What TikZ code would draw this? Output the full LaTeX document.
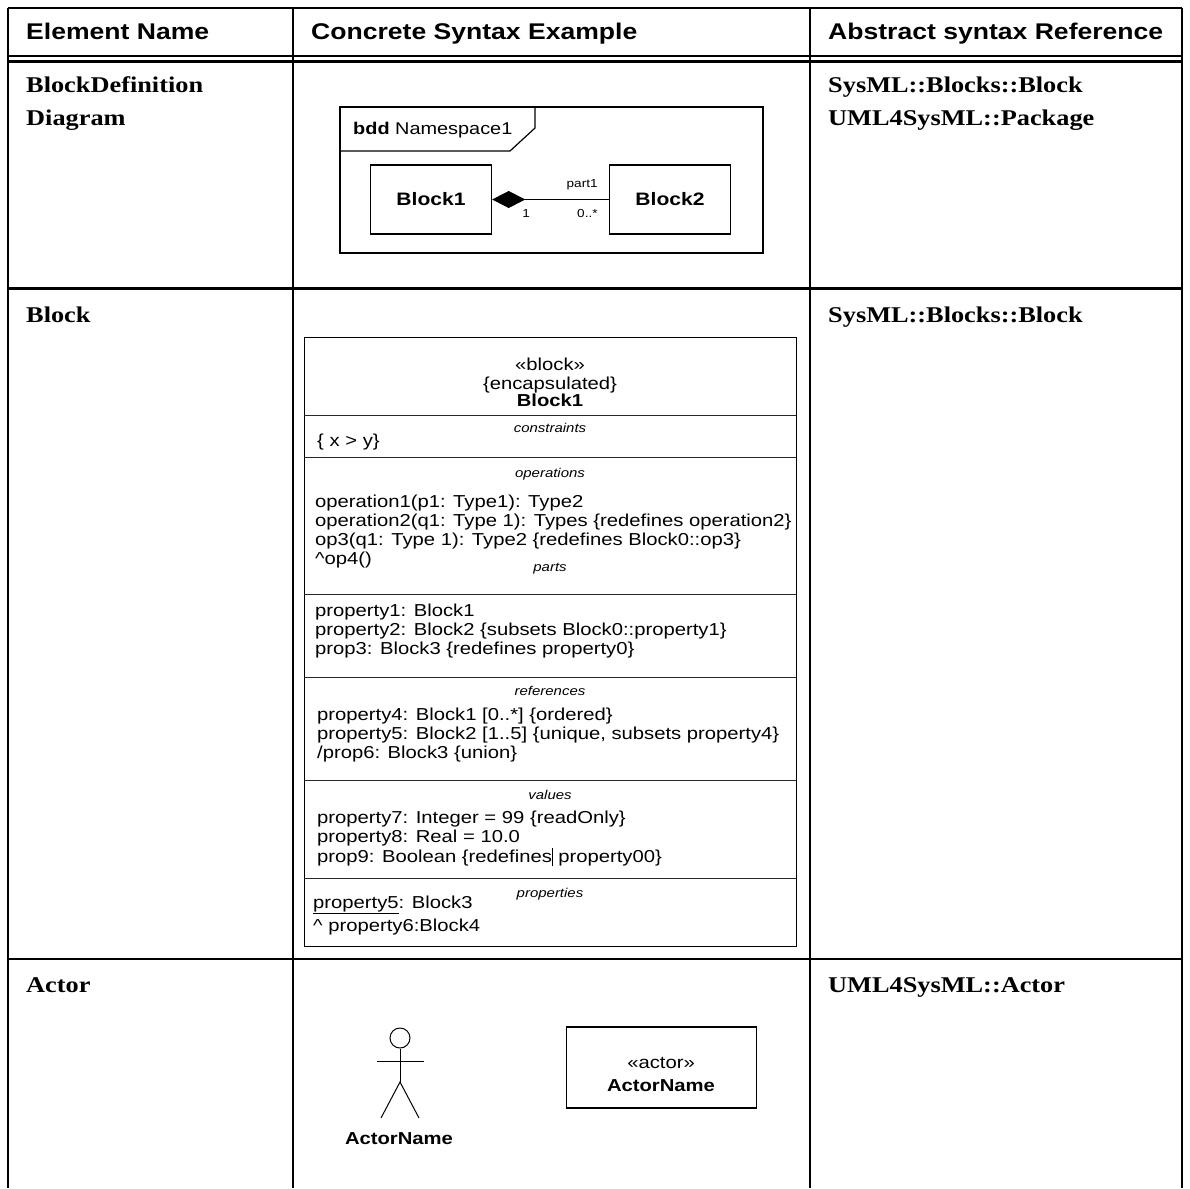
\documentclass[tikz,border=0pt]{standalone}
\usepackage{fontspec}
\setmainfont{Liberation Serif}[FakeStretch=1.17]
\setsansfont{Liberation Sans}[FakeStretch=1.17]
\usetikzlibrary{arrows.meta,positioning}

\begin{document}
\begin{tikzpicture}[x=1pt,y=-1pt]
	\definecolor{ruleColour}{RGB}{0, 0, 0}
	\definecolor{lineColour}{RGB}{40, 40, 40}
	\tikzstyle{rule}=[line width=2.4pt, color=ruleColour]
	\tikzstyle{heading}=[anchor=base west, inner sep=0pt, font=\sffamily\bfseries\fontsize{22.7}{26}\selectfont]
	\tikzstyle{element}=[anchor=base west, inner sep=0pt, font=\rmfamily\bfseries\fontsize{22.5}{27}\selectfont]
	\tikzstyle{entry}=[anchor=base west, inner sep=0pt, font=\sffamily\fontsize{17.3}{19}\selectfont]
	\tikzstyle{headline}=[anchor=base, inner sep=0pt, font=\sffamily\fontsize{17.3}{19}\selectfont]
	\tikzstyle{keyword}=[anchor=base, inner sep=0pt, font=\sffamily\itshape\fontsize{12.8}{15}\selectfont]
	\tikzstyle{blockbox}=[draw, line width=1.4pt, minimum width=121pt, minimum height=69pt, font=\sffamily\bfseries\fontsize{18}{20}\selectfont]
	\tikzstyle{tag}=[inner sep=0pt, font=\sffamily\fontsize{11.6}{13}\selectfont]
	\tikzstyle{compartment}=[line width=1pt, color=lineColour]

	\useasboundingbox (0,0) rectangle (1190,1188);

	% table
	\draw[rule] (8,8) -- (1182,8);
	\draw[rule] (8,56) -- (1182,56);
	\draw[rule] (8,61.5) -- (1182,61.5);
	\draw[rule] (8,288.5) -- (1182,288.5);
	\draw[rule] (8,959) -- (1182,959);
	\draw[rule] (8,8) -- (8,1188);
	\draw[rule] (293,8) -- (293,1188);
	\draw[rule] (810,8) -- (810,1188);
	\draw[rule] (1182,8) -- (1182,1188);

	\node [heading] (hname) at (26,40) {Element Name};
	\node [heading] (hsyntax) at (311,40) {Concrete Syntax Example};
	\node [heading] (href) at (828,40) {Abstract syntax Reference};

	\node [element] (bddname) at (26,93) {BlockDefinition};
	\node [element] (bddname2) at (26,125) {Diagram};
	\node [element] (bddref) at (828,93) {SysML::Blocks::Block};
	\node [element] (bddref2) at (828,125) {UML4SysML::Package};
	\node [element] (blockname) at (26,322) {Block};
	\node [element] (blockref) at (828,322) {SysML::Blocks::Block};
	\node [element] (actorname) at (26,992) {Actor};
	\node [element] (actorref) at (828,992) {UML4SysML::Actor};

	% bdd frame
	\draw[line width=1.2pt] (340,107) rectangle (763,253);
	\draw[line width=1.2pt] (340,151) -- (510,151) -- (535,128) -- (535,107);
	\node [entry, font=\sffamily\fontsize{17}{19}\selectfont] (frametitle) at (353,134) {\textbf{bdd} Namespace1};

	\node [blockbox] (block1) at (431,199.5) {Block1};
	\node [blockbox] (block2) at (670,199.5) {Block2};
	\draw[line width=1pt, {Diamond[length=33pt,width=17pt]}-] (block1) -- (block2);
	\node [tag, above left=9pt and 11pt of block2.west] (rolename) {part1};
	\node [tag, below right=10pt and 30pt of block1.east] (mult1) {1};
	\node [tag, below left=10pt and 11pt of block2.west] (mult2) {0..*};

	% block with compartments
	\draw[line width=1pt] (304,337) rectangle (796,946);
	\draw[compartment] (304,415) -- (796,415);
	\draw[compartment] (304,457) -- (796,457);
	\draw[compartment] (304,594) -- (796,594);
	\draw[compartment] (304,677) -- (796,677);
	\draw[compartment] (304,780) -- (796,780);
	\draw[compartment] (304,878) -- (796,878);

	\node [headline] (stereo) at (550,370) {«block»};
	\node [headline] (encaps) at (550,389) {\{encapsulated\}};
	\node [headline] (bname) at (550,406) {\textbf{Block1}};

	\node [keyword] (kconstr) at (550,432) {constraints};
	\node [entry] (constr1) at (317,446) {\{ x > y\}};

	\node [keyword] (kops) at (550,477) {operations};
	\node [entry] (op1) at (315,507) {operation1(p1: Type1): Type2};
	\node [entry] (op2) at (315,526) {operation2(q1: Type 1): Types \{redefines operation2\}};
	\node [entry] (op3) at (315,545) {op3(q1: Type 1): Type2 \{redefines Block0::op3\}};
	\node [entry] (op4) at (315,564) {\textasciicircum op4()};
	\node [keyword] (kparts) at (550,571) {parts};

	\node [entry] (part1) at (315,616) {property1: Block1};
	\node [entry] (part2) at (315,635) {property2: Block2 \{subsets Block0::property1\}};
	\node [entry] (part3) at (315,654) {prop3: Block3 \{redefines property0\}};

	\node [keyword] (krefs) at (550,695) {references};
	\node [entry] (ref1) at (317,720) {property4: Block1 [0..*] \{ordered\}};
	\node [entry] (ref2) at (317,739) {property5: Block2 [1..5] \{unique, subsets property4\}};
	\node [entry] (ref3) at (317,758) {/prop6: Block3 \{union\}};

	\node [keyword] (kvals) at (550,799) {values};
	\node [entry] (val1) at (317,823) {property7: Integer = 99 \{readOnly\}};
	\node [entry] (val2) at (317,842) {property8: Real = 10.0};
	\node [entry] (val3) at (317,862) {prop9: Boolean \{redefines\rule[-4pt]{0.7pt}{18pt} property00\}};

	\node [keyword] (kprops) at (550,897) {properties};
	\node [entry] (prop1) at (313,908) {\underline{property5}: Block3};
	\node [entry] (prop2) at (313,931) {\textasciicircum{} property6:Block4};

	% actor
	\node [circle, draw, line width=1pt, minimum size=20pt, inner sep=0pt] (head) at (400,1038) {};
	\coordinate (hip) at (400,1082);
	\coordinate (lefthand) at (377,1061);
	\coordinate (righthand) at (424,1061);
	\coordinate (leftfoot) at (381,1118);
	\coordinate (rightfoot) at (419,1118);
	\draw[line width=1pt] (head) -- (hip);
	\draw[line width=1pt] (lefthand) -- (righthand);
	\draw[line width=1pt] (leftfoot) -- (hip) -- (rightfoot);
	\node [headline] (figname) at (399,1144) {\textbf{ActorName}};

	\node [draw, line width=1.4pt, minimum width=190pt, minimum height=81pt] (actorbox) at (661.5,1067.5) {};
	\node [headline] (actorstereo) at (661,1068) {«actor»};
	\node [headline] (actorboxname) at (661,1091) {\textbf{ActorName}};
\end{tikzpicture}
\end{document}
